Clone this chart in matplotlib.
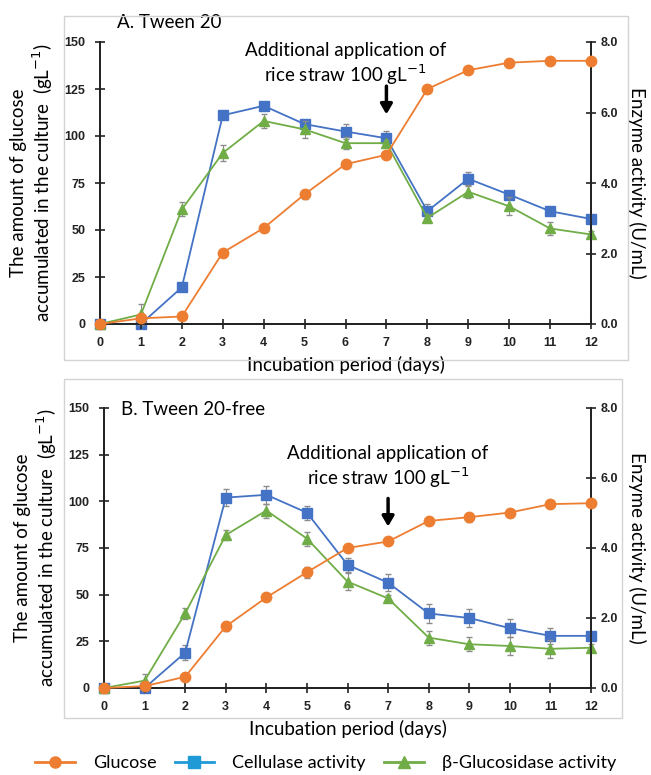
import numpy as np
import matplotlib
matplotlib.use("Agg")
import matplotlib.pyplot as plt
from matplotlib.lines import Line2D
from matplotlib.patches import Rectangle

days = np.arange(13)

# panel A: Tween 20
glc_a = [0, 3, 4, 38, 51, 69, 85, 90, 125, 135, 139, 140, 140]
glc_a_err = [0, 0.5, 0.5, 1.5, 1.5, 2.5, 1.5, 1.5, 1.5, 1.5, 1, 1, 1]
cel_a = [0, 0, 1.04, 5.92, 6.19, 5.67, 5.46, 5.27, 3.20, 4.12, 3.67, 3.20, 2.98]
cel_a_err = [0, 0, 0.05, 0.1, 0.1, 0.12, 0.22, 0.2, 0.2, 0.2, 0.08, 0.08, 0.05]
bgl_a = [0, 0.27, 3.25, 4.85, 5.76, 5.52, 5.13, 5.13, 3.01, 3.75, 3.34, 2.71, 2.54]
bgl_a_err = [0, 0.3, 0.2, 0.22, 0.2, 0.25, 0.17, 0.1, 0.1, 0.18, 0.25, 0.18, 0.1]

# panel B: Tween 20-free
glc_b = [0, 1, 6, 33, 48.5, 62, 75, 78.5, 89.5, 91.5, 94, 98.5, 99]
glc_b_err = [0, 0.5, 1, 2.5, 1.5, 3, 1.5, 1.5, 1.5, 2.5, 1.5, 1.5, 1]
cel_b = [0, 0, 1.01, 5.44, 5.52, 5.01, 3.52, 3.01, 2.13, 2.00, 1.71, 1.49, 1.49]
cel_b_err = [0, 0, 0.22, 0.25, 0.25, 0.2, 0.2, 0.25, 0.28, 0.25, 0.25, 0.22, 0.05]
bgl_b = [0, 0.21, 2.13, 4.37, 5.07, 4.27, 3.04, 2.56, 1.44, 1.25, 1.20, 1.12, 1.15]
bgl_b_err = [0, 0.2, 0.15, 0.15, 0.2, 0.2, 0.25, 0.1, 0.2, 0.2, 0.25, 0.25, 0.1]

ORANGE = "#ED7D31"
BLUE = "#4472C4"
GREEN = "#70AD47"
LEG_BLUE = "#1E9BD7"
TXT = "Lato"

fig = plt.figure(figsize=(6.51, 7.75), dpi=100)

# light grey frames around each panel
fig.patches.append(Rectangle((64 / 651, 1 - 360 / 775), 564 / 651, 344 / 775,
                             transform=fig.transFigure, fill=False, ec="#D3D3D3", lw=1))
fig.patches.append(Rectangle((64 / 651, 1 - 718 / 775), 558 / 651, 339 / 775,
                             transform=fig.transFigure, fill=False, ec="#D3D3D3", lw=1))


def panel(rect, title, glc, glc_err, cel, cel_err, bgl, bgl_err, note_xy, arrow_y):
    ax = fig.add_axes(rect)
    ax2 = ax.twinx()
    ax.errorbar(days, glc, yerr=glc_err, color=ORANGE, marker="o", ms=7.5, lw=1.3,
                ecolor="#8C8C8C", elinewidth=0.8, capsize=2, clip_on=False, zorder=3)
    ax2.errorbar(days, cel, yerr=cel_err, color=BLUE, marker="s", ms=7, lw=1.3,
                 ecolor="#8C8C8C", elinewidth=0.8, capsize=2, clip_on=False, zorder=3)
    ax2.errorbar(days, bgl, yerr=bgl_err, color=GREEN, marker="^", ms=7.5, lw=1.3,
                 ecolor="#8C8C8C", elinewidth=0.8, capsize=2, clip_on=False, zorder=4)
    ax.set_xlim(0, 12)
    ax.set_ylim(0, 150)
    ax2.set_ylim(0, 8)
    ax.set_xticks(days)
    ax.set_yticks(np.arange(0, 151, 25))
    ax2.set_yticks(np.arange(0, 8.1, 2))
    ax2.set_yticklabels([f"{v:.1f}" for v in np.arange(0, 8.1, 2)])
    for a in (ax, ax2):
        a.spines["top"].set_visible(False)
        for s in a.spines.values():
            s.set_color("#222222")
            s.set_linewidth(1.3)
        a.tick_params(direction="inout", length=7, width=1.2, labelsize=9, colors="#222222")
        for lab in a.get_xticklabels() + a.get_yticklabels():
            lab.set_fontweight("bold")
            lab.set_fontfamily("Liberation Sans")
    ax.tick_params(axis="y", pad=7)
    ax.tick_params(axis="x", pad=6)
    ax.set_xlabel("Incubation period (days)", fontfamily=TXT, fontsize=13.5, labelpad=5)
    ax.set_ylabel("The amount of glucose\naccumulated in the culture  (gL$^{-1}$)",
                  fontfamily=TXT, fontsize=13.5, labelpad=7, linespacing=1.15)
    ax2.set_ylabel("Enzyme activity (U/mL)", fontfamily=TXT, fontsize=13.5,
                   rotation=270, labelpad=20)
    ax.text(0.035, title[1], title[0], transform=ax.transAxes, fontfamily=TXT, fontsize=13.5,
            va="center", ha="left")
    ax.text(note_xy[0], note_xy[1], "Additional application of\nrice straw 100 gL$^{-1}$",
            transform=ax.transData, ha="center", va="center", fontfamily=TXT, fontsize=13.5,
            linespacing=1.2)
    ax.annotate("", xy=(7, arrow_y[1]), xytext=(7, arrow_y[0]),
                arrowprops=dict(arrowstyle="-|>,head_width=0.35,head_length=0.6",
                                color="black", lw=2.5))
    ax.set_zorder(ax2.get_zorder() + 1)
    ax.patch.set_visible(False)
    return ax


panel([100 / 651, 1 - 324 / 775, 491 / 651, 282 / 775], ("A. Tween 20", 1.07),
      glc_a, glc_a_err, cel_a, cel_a_err, bgl_a, bgl_a_err, (6.0, 138), (128, 110))
panel([104 / 651, 1 - 688 / 775, 487 / 651, 280 / 775], ("B. Tween 20-free", 0.995),
      glc_b, glc_b_err, cel_b, cel_b_err, bgl_b, bgl_b_err, (7.0, 118), (103, 85))

handles = [
    Line2D([], [], color=ORANGE, marker="o", ms=8, lw=2),
    Line2D([], [], color=LEG_BLUE, marker="s", ms=8, lw=2),
    Line2D([], [], color=GREEN, marker="^", ms=9, lw=2),
]
fig.legend(handles, ["Glucose", "Cellulase activity", "\u03b2-Glucosidase activity"],
           loc="center", bbox_to_anchor=(0.5, 1 - 763 / 775), ncol=3, frameon=False,
           prop={"family": TXT, "size": 13}, handlelength=2.2, columnspacing=1.0,
           handletextpad=1.0)

fig.savefig("out.png", dpi=100)
